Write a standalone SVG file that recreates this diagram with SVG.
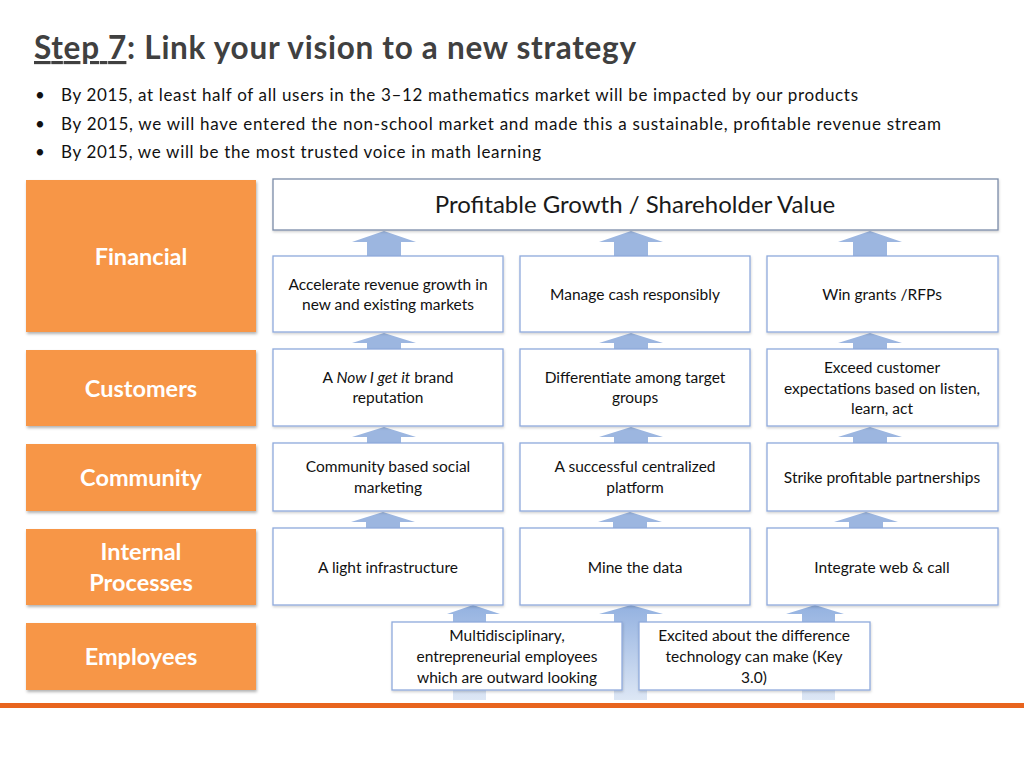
<svg xmlns="http://www.w3.org/2000/svg" width="1024" height="768" viewBox="0 0 1024 768">
<defs>
<style>
.title{font-family:Lato,"Liberation Sans",sans-serif;font-weight:bold;font-size:31.5px;fill:#404040}
.bul{font-family:Lato,"Liberation Sans",sans-serif;font-size:17px;fill:#111}
.cat{fill:#F79646;filter:url(#sh)}
.catt{font-family:Lato,"Liberation Sans",sans-serif;font-weight:bold;font-size:23.5px;fill:#fff;text-anchor:middle}
.box{fill:#fff;stroke:#8FAADC;stroke-width:1.3;filter:url(#sh2)}
.top{fill:#fff;stroke:#7A8BA8;stroke-width:1.3;filter:url(#sh2)}
.bt{font-family:Lato,"Liberation Sans",sans-serif;font-size:15.5px;fill:#111;text-anchor:middle}
.tt{font-family:Lato,"Liberation Sans",sans-serif;font-size:24px;fill:#1a1a1a;text-anchor:middle}
.arr{fill:#9CB6E0}
.arrg{fill:url(#fade)}
</style>
<filter id="sh" x="-10%" y="-10%" width="130%" height="130%">
<feDropShadow dx="1" dy="2" stdDeviation="1.5" flood-color="#000" flood-opacity="0.3"/>
</filter>
<filter id="sh2" x="-10%" y="-10%" width="130%" height="130%">
<feDropShadow dx="0.5" dy="1.5" stdDeviation="1.2" flood-color="#000" flood-opacity="0.18"/>
</filter>
<linearGradient id="fade" x1="0" y1="0" x2="0" y2="1">
<stop offset="0" stop-color="#93B1E0"/>
<stop offset="1" stop-color="#DDE7F5"/>
</linearGradient>
</defs>
<rect width="1024" height="768" fill="#fff"/>

<g id="title">
<text class="title" x="34" y="59" textLength="602"><tspan text-decoration="underline">Step 7</tspan>: Link your vision to a new strategy</text>
</g>
<g id="bullets" class="bul">
<text x="35" y="101">•</text><text x="61" y="101" textLength="797">By 2015, at least half of all users in the 3–12 mathematics market will be impacted by our products</text>
<text x="35" y="130">•</text><text x="61" y="130" textLength="880">By 2015, we will have entered the non-school market and made this a sustainable, profitable revenue stream</text>
<text x="35" y="158">•</text><text x="61" y="158" textLength="480">By 2015, we will be the most trusted voice in math learning</text>
</g>

<g id="connectors">
<path class="arr" d="M384 231 L416 242 L401 242 L401 256 L367 256 L367 242 L352 242 Z"/>
<path class="arr" d="M631 231 L663 242 L648 242 L648 256 L614 256 L614 242 L599 242 Z"/>
<path class="arr" d="M870 231 L902 242 L887 242 L887 256 L853 256 L853 242 L838 242 Z"/>
<path class="arr" d="M384 333 L416 343 L401 343 L401 349 L367 349 L367 343 L352 343 Z"/>
<path class="arr" d="M631 333 L663 343 L648 343 L648 349 L614 349 L614 343 L599 343 Z"/>
<path class="arr" d="M870 333 L902 343 L887 343 L887 349 L853 349 L853 343 L838 343 Z"/>
<path class="arr" d="M384 427 L416 437 L401 437 L401 443 L367 443 L367 437 L352 437 Z"/>
<path class="arr" d="M631 427 L663 437 L648 437 L648 443 L614 443 L614 437 L599 437 Z"/>
<path class="arr" d="M870 427 L902 437 L887 437 L887 443 L853 443 L853 437 L838 437 Z"/>
<path class="arr" d="M383 512 L415 522 L400 522 L400 528 L366 528 L366 522 L351 522 Z"/>
<path class="arr" d="M630 512 L662 522 L647 522 L647 528 L613 528 L613 522 L598 522 Z"/>
<path class="arr" d="M866 512 L898 522 L883 522 L883 528 L849 528 L849 522 L834 522 Z"/>
<path class="arrg" d="M473 605 L500 614 L486 614 L486 700 L453 700 L453 614 L447 614 Z"/>
<path class="arrg" d="M631 605 L663 614 L647 614 L647 700 L614 700 L614 614 L599 614 Z"/>
<path class="arrg" d="M815 605 L844 614 L835 614 L835 700 L802 700 L802 614 L786 614 Z"/>
</g>

<g id="cat-financial"><rect class="cat" x="26" y="180" width="230" height="152"/><text class="catt" x="141" y="265">Financial</text></g>
<g id="cat-customers"><rect class="cat" x="26" y="350" width="230" height="76"/><text class="catt" x="141" y="397">Customers</text></g>
<g id="cat-community"><rect class="cat" x="26" y="444" width="230" height="67"/><text class="catt" x="141" y="486">Community</text></g>
<g id="cat-internal"><rect class="cat" x="26" y="529" width="230" height="76"/><text class="catt" x="141" y="560">Internal</text><text class="catt" x="141" y="591">Processes</text></g>
<g id="cat-employees"><rect class="cat" x="26" y="623" width="230" height="67"/><text class="catt" x="141" y="665">Employees</text></g>

<g id="goal"><rect class="top" x="273" y="179" width="725" height="51"/><text class="tt" x="635" y="213">Profitable Growth / Shareholder Value</text></g>

<g id="f1"><rect class="box" x="273" y="256" width="230" height="76"/><text class="bt" x="388" y="290">Accelerate revenue growth in</text><text class="bt" x="388" y="310">new and existing markets</text></g>
<g id="f2"><rect class="box" x="520" y="256" width="230" height="76"/><text class="bt" x="635" y="300">Manage cash responsibly</text></g>
<g id="f3"><rect class="box" x="767" y="256" width="231" height="76"/><text class="bt" x="882" y="300">Win grants /RFPs</text></g>

<g id="c1"><rect class="box" x="273" y="349" width="230" height="77"/><text class="bt" x="388" y="383">A <tspan font-style="italic">Now I get it</tspan> brand</text><text class="bt" x="388" y="403">reputation</text></g>
<g id="c2"><rect class="box" x="520" y="349" width="230" height="77"/><text class="bt" x="635" y="383">Differentiate among target</text><text class="bt" x="635" y="403">groups</text></g>
<g id="c3"><rect class="box" x="767" y="349" width="231" height="77"/><text class="bt" x="882" y="373">Exceed customer</text><text class="bt" x="882" y="394">expectations based on listen,</text><text class="bt" x="882" y="414">learn, act</text></g>

<g id="m1"><rect class="box" x="273" y="443" width="230" height="68"/><text class="bt" x="388" y="472">Community based social</text><text class="bt" x="388" y="493">marketing</text></g>
<g id="m2"><rect class="box" x="520" y="443" width="230" height="68"/><text class="bt" x="635" y="472">A successful centralized</text><text class="bt" x="635" y="493">platform</text></g>
<g id="m3"><rect class="box" x="767" y="443" width="231" height="68"/><text class="bt" x="882" y="483">Strike profitable partnerships</text></g>

<g id="p1"><rect class="box" x="273" y="528" width="230" height="77"/><text class="bt" x="388" y="573">A light infrastructure</text></g>
<g id="p2"><rect class="box" x="520" y="528" width="230" height="77"/><text class="bt" x="635" y="573">Mine the data</text></g>
<g id="p3"><rect class="box" x="767" y="528" width="231" height="77"/><text class="bt" x="882" y="573">Integrate web &amp; call</text></g>

<g id="e1"><rect class="box" x="392" y="622" width="230" height="68"/><text class="bt" x="507" y="641">Multidisciplinary,</text><text class="bt" x="507" y="662">entrepreneurial employees</text><text class="bt" x="507" y="683">which are outward looking</text></g>
<g id="e2"><rect class="box" x="639" y="622" width="231" height="68"/><text class="bt" x="754" y="641">Excited about the difference</text><text class="bt" x="754" y="662">technology can make (Key</text><text class="bt" x="754" y="683">3.0)</text></g>

<rect id="rule" x="0" y="703" width="1024" height="5" fill="#E8641E"/>
</svg>
